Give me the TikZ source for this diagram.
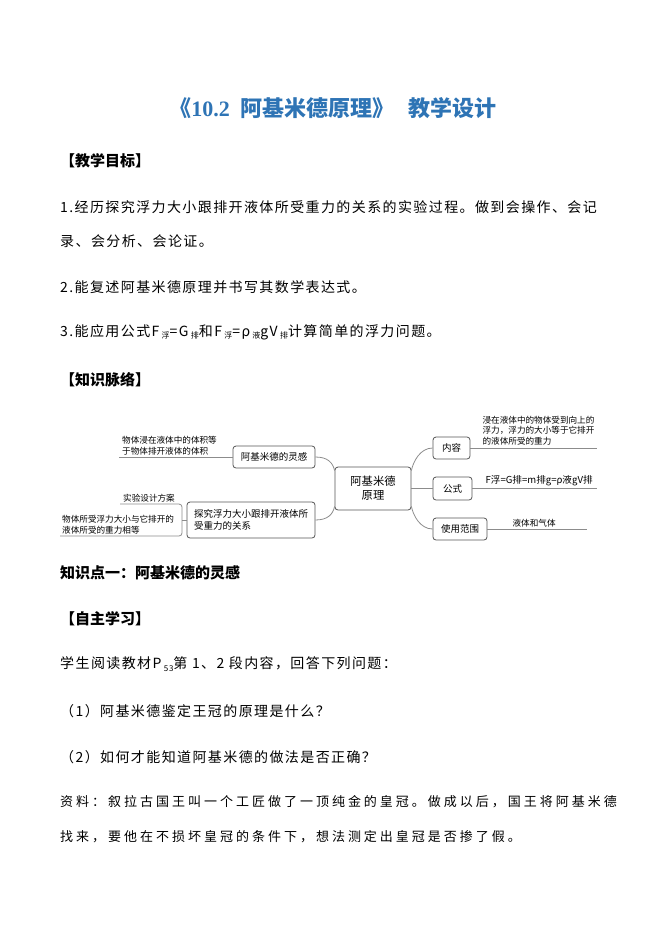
\documentclass[tikz,border=0pt]{standalone}
\usepackage{fontspec}
\setmainfont{Noto Sans CJK SC}
\newfontfamily\cjk{Noto Sans CJK SC}
\newfontfamily\cjkbody[LetterSpace=10]{Noto Sans CJK SC}
\newfontfamily\cjkkai[LetterSpace=23]{Noto Sans CJK SC}
\newfontfamily\titleserif{Liberation Serif}
\usetikzlibrary{positioning}
\definecolor{titleblue}{HTML}{2E74B5}
\definecolor{boxgray}{HTML}{555555}
\definecolor{linkgray}{HTML}{8C8C8C}
\newcommand{\lowtxt}[1]{\raisebox{-2.5pt}{\fontsize{8}{8}\selectfont #1}}
\begin{document}
\begin{tikzpicture}[x=1pt,y=-1pt,
	body/.style={anchor=west,inner sep=0pt,font=\fontsize{14}{14}\cjkbody},
	kai/.style={anchor=west,inner sep=0pt,font=\fontsize{13}{13}\cjkkai},
	head/.style={anchor=west,inner sep=0pt,font=\fontsize{15}{15}\cjk\bfseries},
	mbox/.style={draw=boxgray,line width=0.8pt,rounded corners=3pt,inner sep=2pt,align=left,font=\fontsize{9.5}{12}\cjk},
	note/.style={inner sep=1pt,align=left,font=\fontsize{8.6}{10.5}\cjk},
	link/.style={draw=linkgray,line width=0.8pt}]
	\useasboundingbox (0,0) rectangle (661,935);
	\node[titleblue,font=\fontsize{22}{22}\cjk\bfseries] (title) at (333,108) {《{\titleserif 10.2}\hspace{11pt}阿基米德原理》\hspace{14pt}教学设计};
	\node[head] (goal) at (60,161) {【教学目标】};
	\node[body] (g1a) at (60,207) {1.经历探究浮力大小跟排开液体所受重力的关系的实验过程。做到会操作、会记};
	\node[body] (g1b) at (60,241) {录、会分析、会论证。};
	\node[body] (g2) at (60,287) {2.能复述阿基米德原理并书写其数学表达式。};
	\node[body] (g3) at (60,332) {3.能应用公式F\,\lowtxt{浮}=G\,\lowtxt{排}和F\,\lowtxt{浮}=ρ\,\lowtxt{液}gV\,\lowtxt{排}计算简单的浮力问题。};
	\node[head] (map) at (60,380) {【知识脉络】};
	% mind map
	\node[mbox,align=center,minimum width=76pt,minimum height=43pt,font=\fontsize{11.3}{14}\cjk] (C) at (373,488.5) {阿基米德\\原理};
	\node[mbox,minimum width=82pt,minimum height=22pt] (L1) at (274,457) {阿基米德的灵感};
	\node[mbox,minimum width=128pt,minimum height=36pt] (L2) at (251,520) {探究浮力大小跟排开液体所\\受重力的关系};
	\node[mbox,minimum width=37pt,minimum height=22pt] (R1) at (451.5,448) {内容};
	\node[mbox,minimum width=39pt,minimum height=23pt] (R2) at (452.5,488.5) {公式};
	\node[mbox,minimum width=54pt,minimum height=22pt] (R3) at (460,529) {使用范围};
	\draw[link] (L1.east) .. controls (328,457) and (333,463) .. (C.155);
	\draw[link] (C.205) .. controls (333,514) and (328,520) .. (L2.east);
	\draw[link] (C.25) .. controls (413,462) and (420,448) .. (R1.west);
	\draw[link] (C.east) -- (R2.west);
	\draw[link] (C.335) .. controls (413,515) and (420,529) .. (R3.west);
	\coordinate (e1) at (119,457);
	\coordinate (b) at (182,520);
	\coordinate (e2) at (120,504);
	\coordinate (e3) at (60,536);
	\coordinate (f1) at (597,448);
	\coordinate (f2) at (597,488.5);
	\coordinate (f3) at (587,529);
	\draw[link] (L1.west) -- (e1);
	\draw[link] (L2.west) -- (b);
	\draw[link,rounded corners=3pt] (e2) -- (e2 -| b) -- (e3 -| b) -- (e3);
	\draw[link] (R1.east) -- (f1);
	\draw[link] (R2.east) -- (f2);
	\draw[link] (R3.east) -- (f3);
	\node[note,above right=1pt and 2pt of e1] (n1) {物体浸在液体中的体积等\\于物体排开液体的体积};
	\node[note,above right=1pt and 2pt of e2] (n2) {实验设计方案};
	\node[note,above right=1pt and 1pt of e3] (n3) {物体所受浮力大小与它排开的\\液体所受的重力相等};
	\node[note,above right=2pt and 11pt of R1.east] (m1) {浸在液体中的物体受到向上的\\浮力，浮力的大小等于它排开\\的液体所受的重力};
	\node[note,above right=1pt and 12pt of R2.east,font=\fontsize{9.6}{11}\cjk] (m2) {F浮=G排=m排g=ρ液gV排};
	\node[note,above right=1pt and 24pt of R3.east] (m3) {液体和气体};
	\node[head] (k1) at (60,573) {知识点一：阿基米德的灵感};
	\node[head] (self) at (60,619) {【自主学习】};
	\node[body] (q0) at (60,664) {学生阅读教材P\,\lowtxt{53}第 1、2 段内容，回答下列问题：};
	\node[body] (q1) at (60,711) {（1）阿基米德鉴定王冠的原理是什么？};
	\node[body] (q2) at (60,757) {（2）如何才能知道阿基米德的做法是否正确？};
	\node[kai] (s1) at (60,802) {资料：叙拉古国王叫一个工匠做了一顶纯金的皇冠。做成以后，国王将阿基米德};
	\node[kai] (s2) at (60,837) {找来，要他在不损坏皇冠的条件下，想法测定出皇冠是否掺了假。};
\end{tikzpicture}
\end{document}
